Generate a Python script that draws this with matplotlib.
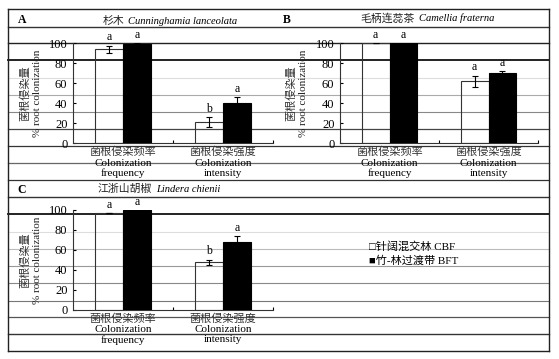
import matplotlib
matplotlib.use("Agg")
import matplotlib.pyplot as plt
from matplotlib.lines import Line2D

plt.rcParams['font.family'] = ['Liberation Serif', 'Noto Sans CJK SC', 'DejaVu Sans']

# ---- data ----
cat_cn = ["菌根侵染频率", "菌根侵染强度"]
cat_en1 = ["Colonization", "Colonization"]
cat_en2 = ["frequency", "intensity"]
series_names = ["针阔混交林 CBF", "竹-林过渡带 BFT"]

A_cbf = [94, 21]
A_cbf_err = [3.5, 5.3]
A_bft = [99.5, 40]
A_bft_err = [0.8, 6]
A_letters_cbf = ["a", "b"]
A_letters_bft = ["a", "a"]

B_cbf = [100, 62]
B_cbf_err = [0, 5.5]
B_bft = [100, 70]
B_bft_err = [0, 2]
B_letters_cbf = ["a", "a"]
B_letters_bft = ["a", "a"]

C_cbf = [97, 48]
C_cbf_err = [0, 2.5]
C_bft = [99.5, 68.5]
C_bft_err = [0.8, 5.6]
C_letters_cbf = ["a", "b"]
C_letters_bft = ["a", "a"]

yticks = [0, 20, 40, 60, 80, 100]

W, H = 559, 359
fig = plt.figure(figsize=(W / 100, H / 100), dpi=100)


def fx(px):
    return px / W


def fy(py):
    return 1 - py / H


# background ruled lines (scan artifacts)
rules = [(9, '#222222', 1.0), (27, '#333333', 1.0), (43, '#222222', 1.0), (60, '#111111', 1.3),
         (78, '#dddddd', 0.8), (95, '#aaaaaa', 0.8), (112, '#888888', 0.8), (129, '#444444', 0.9),
         (146, '#333333', 0.9), (163, '#666666', 0.9), (180, '#333333', 0.9), (197, '#333333', 1.0),
         (214, '#111111', 1.3), (232, '#dddddd', 0.8), (249, '#bbbbbb', 0.8), (266, '#999999', 0.8),
         (283, '#888888', 0.8), (301, '#777777', 0.8), (317, '#555555', 0.9), (334, '#333333', 1.0),
         (351, '#222222', 1.0)]
for y, c, lw in rules:
    fig.add_artist(Line2D([fx(8), fx(549)], [fy(y), fy(y)], color=c, lw=lw, zorder=0))
fig.add_artist(Line2D([fx(8), fx(8)], [fy(9), fy(351)], color='#222222', lw=1.0, zorder=0))
fig.add_artist(Line2D([fx(549), fx(549)], [fy(9), fy(351)], color='#222222', lw=1.0, zorder=0))


def panel(left, right, y0, y100, cbf, cbf_err, bft, bft_err, lc, lb):
    ax = fig.add_axes([fx(left), fy(y0), fx(right - left), (y0 - y100) / H])
    ax.patch.set_alpha(0)
    x = list(range(len(cat_cn)))
    w = 0.28
    xc = [i - w / 2 for i in x]
    xb = [i + w / 2 for i in x]
    ax.bar(xc, cbf, width=w, facecolor='none', edgecolor='#333333', lw=0.8, zorder=3)
    ax.bar(xb, bft, width=w, facecolor='black', edgecolor='black', lw=0.8, zorder=3)
    ax.errorbar(xc, cbf, yerr=cbf_err, fmt='none', ecolor='black', elinewidth=0.8, capsize=2.5, capthick=0.8, zorder=4)
    ax.errorbar(xb, bft, yerr=bft_err, fmt='none', ecolor='black', elinewidth=0.8, capsize=2.5, capthick=0.8, zorder=4)
    for xi, v, e, t in zip(xc, cbf, cbf_err, lc):
        ax.text(xi, v + e + 2, t, ha='center', va='bottom', fontsize=8.5, clip_on=False)
    for xi, v, e, t in zip(xb, bft, bft_err, lb):
        ax.text(xi, v + e + 2, t, ha='center', va='bottom', fontsize=8.5, clip_on=False)
    ax.set_xlim(-0.5, 1.5)
    ax.set_ylim(0, 100)
    ax.set_yticks(yticks)
    ax.set_yticklabels([str(t) for t in yticks], fontsize=9)
    ax.tick_params(axis='y', direction='in', length=2.5, width=0.8, pad=4)
    ax.set_xticks([0.5, 1.5])
    ax.set_xticklabels([])
    ax.tick_params(axis='x', direction='in', length=2.5, width=0.8)
    for i in x:
        ax.annotate(cat_cn[i], (i, 0), xytext=(0, -9), textcoords='offset pixels', xycoords='data',
                    ha='center', va='center', fontsize=8, color='#333333', annotation_clip=False)
        ax.annotate(cat_en1[i], (i, 0), xytext=(0, -20), textcoords='offset pixels', xycoords='data',
                    ha='center', va='center', fontsize=8, annotation_clip=False)
        ax.annotate(cat_en2[i], (i, 0), xytext=(0, -30), textcoords='offset pixels', xycoords='data',
                    ha='center', va='center', fontsize=8, annotation_clip=False)
    for s in ['top', 'right']:
        ax.spines[s].set_visible(False)
    for s in ['left', 'bottom']:
        ax.spines[s].set_color('#333333')
        ax.spines[s].set_linewidth(0.8)
    return ax


panel(73, 273, 143, 43, A_cbf, A_cbf_err, A_bft, A_bft_err, A_letters_cbf, A_letters_bft)
panel(340, 538, 143, 43, B_cbf, B_cbf_err, B_bft, B_bft_err, B_letters_cbf, B_letters_bft)
panel(73, 273, 310, 210, C_cbf, C_cbf_err, C_bft, C_bft_err, C_letters_cbf, C_letters_bft)

# panel letters and titles
for lx, ly, lt in [(22, 20, 'A'), (287, 20, 'B'), (22, 190, 'C')]:
    fig.text(fx(lx), fy(ly), lt, fontsize=8.5, fontweight='bold', ha='center', va='center')

titles = [(124, 128, 21, '杉木', 'Cunninghamia lanceolata'),
          (415, 419, 18, '毛柄连蕊茶', 'Camellia fraterna'),
          (152, 156, 189, '江浙山胡椒', 'Lindera chienii')]
for xr, xl, ty, cn, lat in titles:
    fig.text(fx(xr), fy(ty), cn, fontsize=7.8, ha='right', va='center', color='#222222')
    fig.text(fx(xl), fy(ty), lat, fontsize=7.6, style='italic', ha='left', va='center')

# y labels
for x1, x2, yc in [(25, 37, 93), (291, 303, 93), (25, 37, 260)]:
    fig.text(fx(x1), fy(yc), '菌根侵染量', rotation=90, fontsize=8, ha='center', va='center', color='#333333')
    fig.text(fx(x2), fy(yc), '% root colonization', rotation=90, fontsize=8, ha='center', va='center', color='#222222')

# legend
fig.text(fx(369), fy(246), '□' + series_names[0], fontsize=8, ha='left', va='center')
fig.text(fx(369), fy(261), '■' + series_names[1], fontsize=8, ha='left', va='center')

fig.savefig('out.png', dpi=100)
